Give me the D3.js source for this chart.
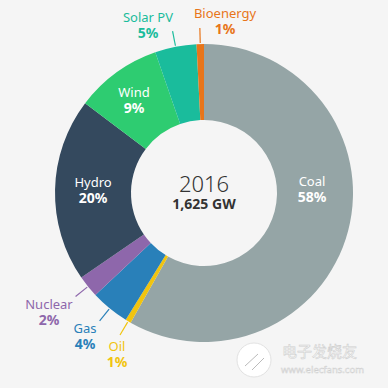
<!DOCTYPE html>
<html>
<head>
<meta charset="utf-8">
<script src="https://cdn.jsdelivr.net/npm/d3@7"></script>
<style>
  html, body { margin: 0; padding: 0; background: #f5f5f5; }
  svg { display: block; font-family: "Noto Sans", "Open Sans", sans-serif; }
</style>
</head>
<body>
<div id="chart"></div>
<script>
// Dimensions
const width = 388;
const height = 388;
const cx = 204, cy = 193;
const outerR = 149, innerR = 73;

// Data (shares of installed capacity)
const sources = ["Coal", "Oil", "Gas", "Nuclear", "Hydro", "Wind", "Solar PV", "Bioenergy"];
const shares = [58.2, 0.6, 4.2, 2.4, 19.9, 9.4, 4.5, 0.8];
const shareLabels = ["58%", "1%", "4%", "2%", "20%", "9%", "5%", "1%"];
const colors = ["#95a5a6", "#f1c40f", "#2980b9", "#8e67ab", "#34495e", "#2ecc71", "#1abc9c", "#e8751a"];
const centerYear = "2016";
const centerTotal = "1,625 GW";

const data = sources.map((s, i) => ({ source: s, value: shares[i], label: shareLabels[i], color: colors[i] }));

const svg = d3.select("#chart")
    .append("svg")
    .attr("width", width)
    .attr("height", height)
    .attr("viewBox", `0 0 ${width} ${height}`);

svg.append("rect")
    .attr("width", width)
    .attr("height", height)
    .attr("fill", "#f5f5f5");

const pie = d3.pie()
    .sort(null)
    .value(d => d.value);

const arc = d3.arc()
    .innerRadius(innerR)
    .outerRadius(outerR);

const arcs = pie(data);

const g = svg.append("g")
    .attr("transform", `translate(${cx},${cy})`);

g.selectAll("path")
    .data(arcs)
    .enter()
    .append("path")
    .attr("d", arc)
    .attr("fill", d => d.data.color);

// small slices get a short leader line from the ring edge outward
const bigSlices = ["Coal", "Hydro", "Wind"];
arcs.filter(d => !bigSlices.includes(d.data.source)).forEach(d => {
    const mid = (d.startAngle + d.endAngle) / 2;
    g.append("line")
        .attr("x1", 150 * Math.sin(mid))
        .attr("y1", -150 * Math.cos(mid))
        .attr("x2", 165 * Math.sin(mid))
        .attr("y2", -165 * Math.cos(mid))
        .attr("stroke", d.data.color)
        .attr("stroke-width", 1.2);
});

function twoLine(parent, x, y, name, pct, fill) {
    parent.append("text")
        .attr("x", x).attr("y", y - 5)
        .attr("text-anchor", "middle")
        .attr("font-size", "13px")
        .attr("fill", fill)
        .text(name);
    parent.append("text")
        .attr("x", x).attr("y", y + 11)
        .attr("text-anchor", "middle")
        .attr("font-size", "14px")
        .attr("font-weight", "bold")
        .attr("fill", fill)
        .text(pct);
}

// label positions (white inside the big slices, coloured outside the small ones)
const labelPos = [
    { source: "Coal",      x: 312, y: 191, inside: true },
    { source: "Hydro",     x: 93,  y: 192, inside: true },
    { source: "Wind",      x: 134, y: 102, inside: true },
    { source: "Solar PV",  x: 148, y: 27 },
    { source: "Bioenergy", x: 225, y: 23 },
    { source: "Nuclear",   x: 49,  y: 314 },
    { source: "Gas",       x: 85,  y: 338 },
    { source: "Oil",       x: 117, y: 356 }
];

labelPos.forEach(o => {
    const d = data.find(e => e.source === o.source);
    twoLine(svg, o.x, o.y, d.source, d.label, o.inside ? "#ffffff" : d.color);
});

// Centre text
svg.append("text")
    .attr("x", cx).attr("y", 192)
    .attr("text-anchor", "middle")
    .attr("font-size", "22px")
    .attr("font-weight", 300)
    .attr("fill", "#333")
    .text(centerYear);

svg.append("text")
    .attr("x", cx).attr("y", 209)
    .attr("text-anchor", "middle")
    .attr("font-size", "14px")
    .attr("font-weight", "bold")
    .attr("fill", "#333")
    .text(centerTotal);

// Watermark
const wm = svg.append("g");
wm.append("circle")
    .attr("cx", 254).attr("cy", 360).attr("r", 17)
    .attr("fill", "#ffffff")
    .attr("stroke", "#e2e2e2");
wm.append("path")
    .attr("d", "M245,366 L258,354 M252,370 L264,358")
    .attr("stroke", "#bbb")
    .attr("fill", "none");
wm.append("text")
    .attr("x", 282).attr("y", 357)
    .attr("font-family", "Noto Sans CJK SC")
    .attr("font-size", "15px")
    .attr("fill", "#ffffff")
    .attr("stroke", "#cfcfcf")
    .attr("stroke-width", 0.6)
    .text("电子发烧友");
wm.append("text")
    .attr("x", 281).attr("y", 373)
    .attr("font-size", "9.5px")
    .attr("fill", "#ffffff")
    .attr("stroke", "#cfcfcf")
    .attr("stroke-width", 0.5)
    .text("www.elecfans.com");
</script>
</body>
</html>
